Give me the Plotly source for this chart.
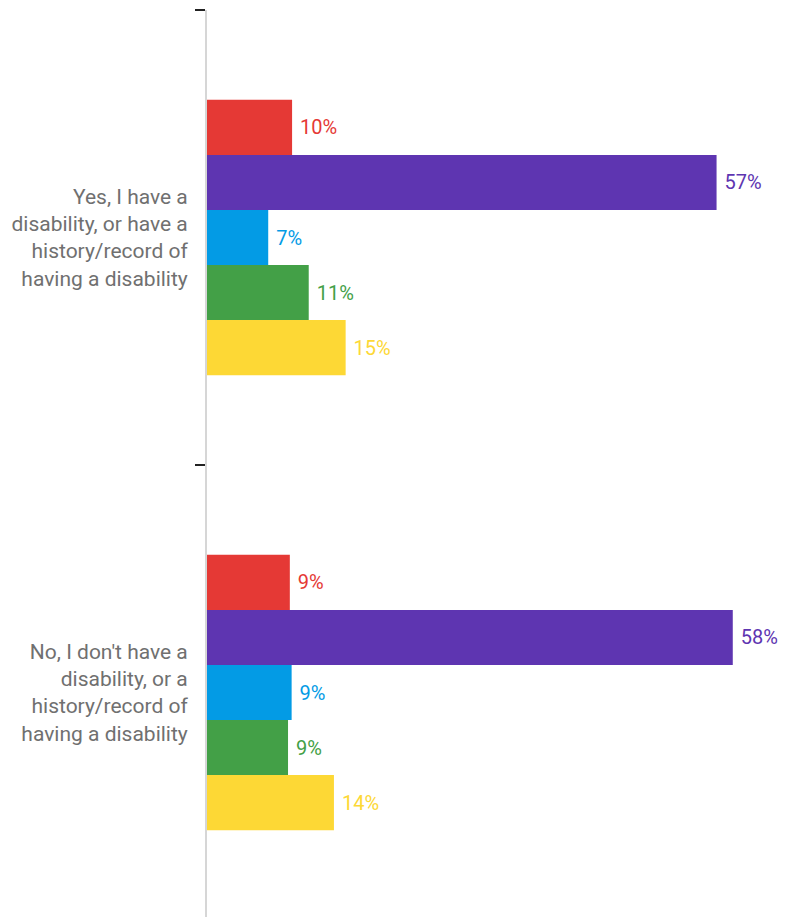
import plotly.graph_objects as go

categories = [
    "Yes, I have a<br>disability, or have a<br>history/record of<br>having a disability",
    "No, I don't have a<br>disability, or a<br>history/record of<br>having a disability",
]
series_colors = ["#E53935", "#5E35B1", "#039BE5", "#43A047", "#FDD835"]
series_names = ["Series 1", "Series 2", "Series 3", "Series 4", "Series 5"]
values = [
    [9.45, 9.2],
    [56.6, 58.4],
    [6.8, 9.4],
    [11.3, 9.0],
    [15.4, 14.1],
]
labels = [
    ["10%", "9%"],
    ["57%", "58%"],
    ["7%", "9%"],
    ["11%", "9%"],
    ["15%", "14%"],
]

fig = go.Figure()
for name, color, vals, labs in zip(series_names, series_colors, values, labels):
    fig.add_trace(go.Bar(
        y=categories, x=vals, orientation="h", name=name,
        marker=dict(color=color, line=dict(width=0)),
        text=labs, texttemplate="\u00a0%{text}", textposition="outside",
        cliponaxis=False,
        textfont=dict(color=color, size=20, family="Roboto, sans-serif"),
    ))

fig.update_layout(
    width=786, height=917,
    margin=dict(l=199, r=0, t=2, b=8, autoexpand=False),
    barmode="group", bargap=0.395, bargroupgap=0,
    plot_bgcolor="white", paper_bgcolor="white",
    showlegend=False,
    font=dict(family="Roboto, sans-serif"),
)
fig.update_xaxes(range=[0, 65.2], visible=False, showgrid=False, zeroline=False,
                 automargin=False)
fig.update_yaxes(
    type="category", range=[1.4934, -0.5], automargin=False,
    tickson="boundaries", ticks="outside", ticklen=10, tickwidth=2, tickcolor="#222",
    showline=True, linecolor="#d6d6d6", linewidth=2,
    showgrid=False, zeroline=False,
    tickfont=dict(size=21, color="#707070"),
    ticklabelstandoff=13,
)
fig.write_html("out.html")
